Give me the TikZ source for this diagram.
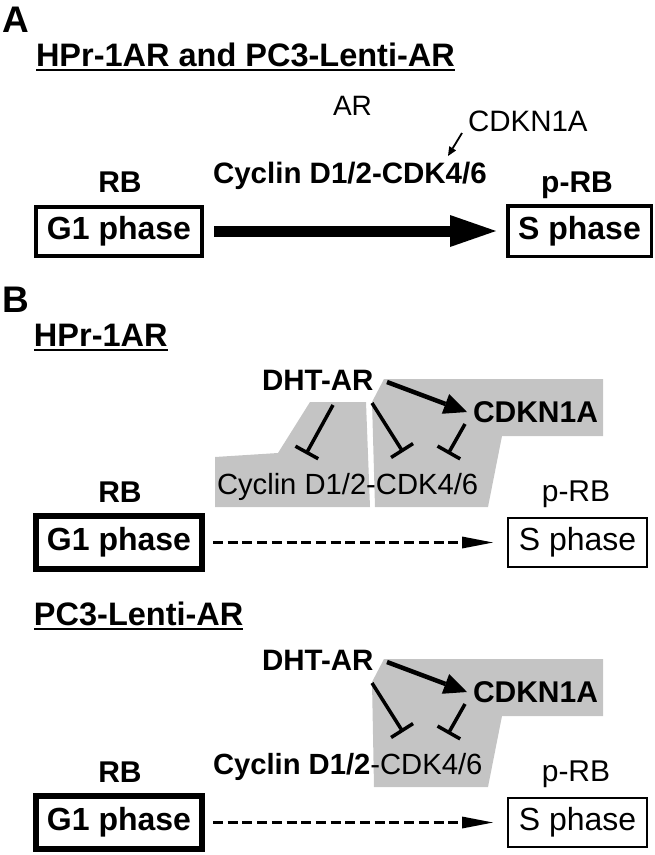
\documentclass[tikz,border=0pt]{standalone}
\usepackage{fontspec}
\setmainfont{Liberation Sans}
\usetikzlibrary{arrows.meta}
\definecolor{areagrey}{RGB}{196,196,196}
\newcommand\myfs[1]{\fontsize{#1}{#1}\selectfont}
\begin{document}
\begin{tikzpicture}[x=1pt,y=-1pt,
  txt/.style={inner sep=0pt, outer sep=0pt, anchor=base west},
  ctxt/.style={inner sep=0pt, outer sep=0pt, anchor=base},
  panel/.style={txt, font=\bfseries\myfs{37}},
  ttl/.style={txt, font=\bfseries\myfs{32.5}},
  bb/.style={font=\bfseries\myfs{30}},
  rg/.style={font=\myfs{29.5}},
  box/.style={draw, inner sep=0pt, outer sep=0pt},
  uline/.style={line width=2pt},
  greyarea/.style={fill=areagrey, draw=none},
  inh/.style={line width=3.5pt, -{Bar[width=26pt]}},
  act/.style={line width=4.5pt, -{Triangle[length=23pt,width=21pt,line width=0pt]}},
  dasharrow/.style={line width=2.5pt, dash pattern=on 10pt off 4.7pt, -{Triangle[length=31pt,width=12pt,line width=0pt]}}
]
\useasboundingbox (0,0) rectangle (655,855);

% ---------------- Panel A ----------------
\node[panel] (lA) at (2,32) {A};
\node[ttl] (tA) at (36,66) {HPr-1AR and PC3-Lenti-AR};
\draw[uline] ([yshift=-4pt]tA.base west) -- ([yshift=-4pt]tA.base east);
\node[txt, font=\myfs{28}] (arA) at (333,115) {AR};
\node[txt, rg] (ckA) at (468,131) {CDKN1A};
\node[txt, font=\bfseries\myfs{29.5}] (cyA) at (213,183) {Cyclin D1/2-CDK4/6};
\node[ctxt, bb] (rbA) at (120,192) {RB};
\node[ctxt, bb] (prbA) at (577,192) {p-RB};
\node[box, line width=4pt, minimum width=166pt, minimum height=49pt, font=\bfseries\myfs{32}] (g1A) at (119,231) {G1 phase};
\node[box, line width=3.5pt, minimum width=143.5pt, minimum height=50.5pt, font=\bfseries\myfs{32}] (sA) at (579.5,231) {S phase};
\coordinate (saS) at (462,133);
\coordinate (saE) at (448,156);
\draw[line width=1.8pt, -{Triangle[length=9pt,width=8pt,line width=0pt]}] (saS) -- (saE);
\draw[line width=11pt, -{Triangle[length=46pt,width=32pt,line width=0pt]}] ([xshift=12pt]g1A.east) -- ([xshift=-11.75pt]sA.west);

% ---------------- Panel B ----------------
\node[panel] (lB) at (2,312) {B};
\node[ttl] (tB1) at (34,346) {HPr-1AR};
\draw[uline] ([yshift=-4pt]tB1.base west) -- ([yshift=-4pt]tB1.base east);

\path[greyarea] (310,402) -- (366,402) -- (370,507) -- (215,507) -- (215,457) -- (278,453) -- cycle;
\path[greyarea] (384,379) -- (603,379) -- (603,436) -- (502,436) -- (488,507) -- (375,507) -- (372,402) -- cycle;

\node[txt, font=\bfseries\myfs{29.5}] (dht1) at (262,390) {DHT-AR};
\node[txt, bb] (ck1) at (473,422) {CDKN1A};
\node[txt, font=\myfs{29.2}] (cy1) at (217,494) {Cyclin D1/2-CDK4/6};
\node[ctxt, bb] (rb1) at (120,502) {RB};
\node[ctxt, font=\myfs{30}] (prb1) at (576,501) {p-RB};

\coordinate (a1s) at (387,382);
\coordinate (a1e) at (467,412);
\draw[act] (a1s) -- (a1e);
\coordinate (i1s) at (333,405);
\coordinate (i1e) at (306,454);
\draw[inh] (i1s) -- (i1e);
\coordinate (i2s) at (372,403);
\coordinate (i2e) at (403,452);
\draw[inh] (i2s) -- (i2e);
\coordinate (i3s) at (465,424);
\coordinate (i3e) at (448,454);
\draw[inh] (i3s) -- (i3e);

\node[box, line width=6pt, minimum width=166pt, minimum height=53pt, font=\bfseries\myfs{32}] (g1B) at (119,542.5) {G1 phase};
\node[box, line width=2pt, minimum width=139pt, minimum height=49pt, font=\myfs{32}] (sB) at (577.5,542.5) {S phase};
\draw[dasharrow] ([xshift=11pt]g1B.east) -- ([xshift=-15pt]sB.west);

% ---------------- PC3-Lenti-AR ----------------
\node[ttl] (tB2) at (34,625) {PC3-Lenti-AR};
\draw[uline] ([yshift=-4pt]tB2.base west) -- ([yshift=-4pt]tB2.base east);

\path[greyarea] (384,659) -- (603,659) -- (603,716) -- (502,716) -- (488,787) -- (374,787) -- (372,682) -- cycle;

\node[txt, font=\bfseries\myfs{29.5}] (dht2) at (262,670) {DHT-AR};
\node[txt, bb] (ck2) at (473,702) {CDKN1A};
\node[txt, font=\myfs{29.2}] (cy2) at (213,774) {{\bfseries Cyclin D1/2}-CDK4/6};
\node[ctxt, bb] (rb2) at (120,782) {RB};
\node[ctxt, font=\myfs{30}] (prb2) at (576,781) {p-RB};

\coordinate (a2s) at (387,662);
\coordinate (a2e) at (467,692);
\draw[act] (a2s) -- (a2e);
\coordinate (j2s) at (372,683);
\coordinate (j2e) at (403,732);
\draw[inh] (j2s) -- (j2e);
\coordinate (j3s) at (465,704);
\coordinate (j3e) at (448,734);
\draw[inh] (j3s) -- (j3e);

\node[box, line width=6pt, minimum width=166pt, minimum height=53pt, font=\bfseries\myfs{32}] (g1C) at (119,822.5) {G1 phase};
\node[box, line width=2pt, minimum width=139pt, minimum height=49pt, font=\myfs{32}] (sC) at (577.5,822.5) {S phase};
\draw[dasharrow] ([xshift=11pt]g1C.east) -- ([xshift=-15pt]sC.west);
\end{tikzpicture}
\end{document}
